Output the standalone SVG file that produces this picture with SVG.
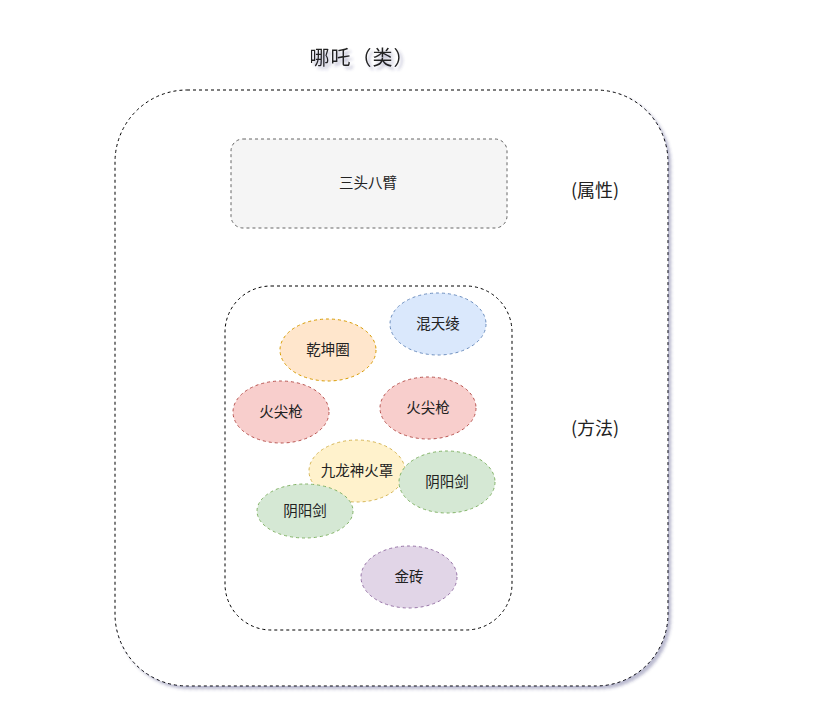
<svg xmlns="http://www.w3.org/2000/svg" width="823" height="718" viewBox="0 0 823 718">
<style>
text{font-family:"Noto Sans CJK SC","Liberation Sans",sans-serif;text-anchor:middle;dominant-baseline:central;fill:#222}
.d{stroke-dasharray:3 3;stroke-width:1}
.e{font-size:14.5px}
.l{font-size:18px}
</style>
<defs>
<filter id="sh" x="-10%" y="-10%" width="130%" height="130%">
<feGaussianBlur in="SourceAlpha" stdDeviation="1.7"/>
<feOffset dx="3" dy="3" result="b"/>
<feFlood flood-color="#3c3c78" flood-opacity="0.35"/>
<feComposite in2="b" operator="in"/>
<feMerge><feMergeNode/><feMergeNode in="SourceGraphic"/></feMerge>
</filter>
</defs>
<rect width="823" height="718" fill="#fff"/>
<g id="title"><text x="362" y="56.5" style="font-size:20px;letter-spacing:1px" filter="url(#sh)">哪吒（类）</text></g>
<g id="class"><rect x="115" y="90" width="553" height="596" rx="72" fill="#fff" stroke="#000" class="d" filter="url(#sh)"/></g>
<g id="attrs"><rect x="231" y="139" width="276" height="89" rx="12" fill="#f5f5f5" stroke="#666" class="d"/><text x="368" y="181.5" class="e">三头八臂</text></g>
<g id="attrLabel"><text x="595" y="188.5" class="l">(属性)</text></g>
<g id="methods"><rect x="225" y="286" width="287" height="344" rx="46" fill="#fff" stroke="#000" class="d"/></g>
<g id="methodLabel"><text x="595" y="426.5" class="l">(方法)</text></g>
<g id="m1"><ellipse cx="438" cy="324" rx="48" ry="31" fill="#dae8fc" stroke="#6c8ebf" class="d"/><text x="438" y="322.5" class="e">混天绫</text></g>
<g id="m2"><ellipse cx="328" cy="350" rx="48" ry="31" fill="#ffe6cc" stroke="#d79b00" class="d"/><text x="328" y="348.5" class="e">乾坤圈</text></g>
<g id="m3"><ellipse cx="281" cy="412" rx="48" ry="31" fill="#f8cecc" stroke="#b85450" class="d"/><text x="281" y="410.5" class="e">火尖枪</text></g>
<g id="m4"><ellipse cx="428" cy="408" rx="48" ry="31" fill="#f8cecc" stroke="#b85450" class="d"/><text x="428" y="406.5" class="e">火尖枪</text></g>
<g id="m5"><ellipse cx="357" cy="471" rx="48" ry="31" fill="#fff2cc" stroke="#d6b656" class="d"/><text x="357" y="469.5" class="e">九龙神火罩</text></g>
<g id="m6"><ellipse cx="447" cy="482" rx="48" ry="31" fill="#d5e8d4" stroke="#82b366" class="d"/><text x="447" y="480.5" class="e">阴阳剑</text></g>
<g id="m7"><ellipse cx="305" cy="511" rx="48" ry="27" fill="#d5e8d4" stroke="#82b366" class="d"/><text x="305" y="509.5" class="e">阴阳剑</text></g>
<g id="m8"><ellipse cx="409" cy="577" rx="48" ry="31" fill="#e1d5e7" stroke="#9673a6" class="d"/><text x="409" y="575.5" class="e">金砖</text></g>
<g id="connectors"/>
</svg>
